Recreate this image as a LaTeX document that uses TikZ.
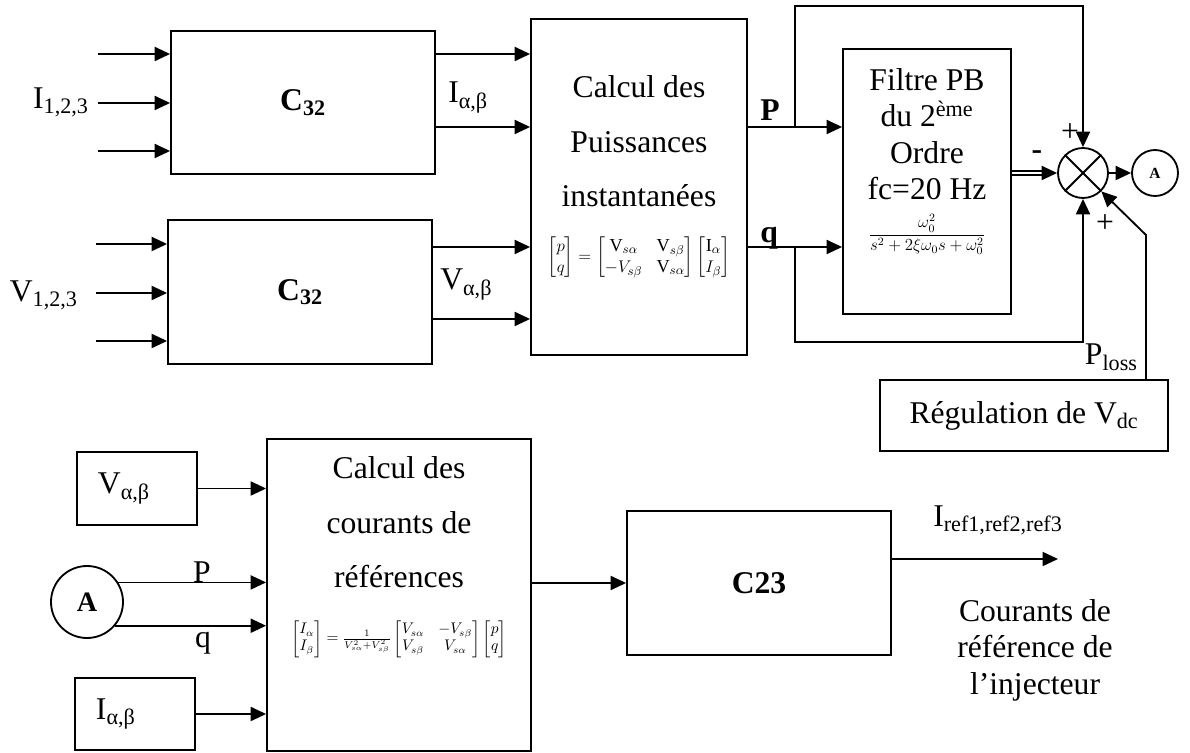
\documentclass[tikz,border=0pt]{standalone}
\usepackage{amsmath}
\usepackage{fontspec}
\setmainfont{Liberation Serif}
\usetikzlibrary{arrows.meta,calc}

\tikzset{
  bloc/.style 2 args={draw,line width=1.3pt,minimum width=#1*0.025cm,minimum height=#2*0.025cm,inner sep=0pt},
  rond/.style={draw,circle,line width=1.3pt,inner sep=0pt,minimum size=#1*0.025cm},
  ligne/.style={line width=1.3pt},
  fleche/.style={line width=1.3pt,-{Triangle[length=11pt,width=10pt]}},
  texte/.style={inner sep=0pt,font=\fontsize{22.5}{26}\selectfont},
  grand/.style={inner sep=0pt,align=center,font=\fontsize{22.5}{39}\selectfont}
}

\begin{document}
\begin{tikzpicture}[x=0.025cm,y=-0.025cm]
  \useasboundingbox (0,0) rectangle (1190,753);
  % transformations C32
  \node[bloc={264}{143},texte] (c32i) at (303,102.5) {\textbf{C\textsubscript{32}}};
  \node[bloc={264}{144},texte] (c32v) at (300,292) {\textbf{C\textsubscript{32}}};
  \foreach \y in {54,103,151}{
    \coordinate (ei\y) at (98,\y);
    \draw[fleche] (ei\y) -- (ei\y -| c32i.west);
  }
  \foreach \y in {244,293,341}{
    \coordinate (ev\y) at (96,\y);
    \draw[fleche] (ev\y) -- (ev\y -| c32v.west);
  }
  \node[texte,anchor=base east] (li) at (89,109) {I\textsubscript{1,2,3}};
  \node[texte,anchor=base east] (lv) at (78,302) {V\textsubscript{1,2,3}};

  % calcul des puissances
  \node[bloc={216}{336}] (calcP) at (639,187) {};
  \node[grand,anchor=north] (txtP) at (639,75) {Calcul des\\Puissances\\instantanées\\
    {\fontsize{13}{15}\selectfont$\begin{bmatrix}p\\q\end{bmatrix}=\begin{bmatrix}\mathrm{V}_{s\alpha}&\mathrm{V}_{s\beta}\\-V_{s\beta}&\mathrm{V}_{s\alpha}\end{bmatrix}\begin{bmatrix}\mathrm{I}_{\alpha}\\I_{\beta}\end{bmatrix}$}};
  \draw[fleche] (c32i.east |- ei54) -- (calcP.west |- ei54);
  \draw[fleche] (c32i.east |- 0,127) -- (calcP.west |- 0,127);
  \draw[fleche] (c32v.east |- 0,247) -- (calcP.west |- 0,247);
  \draw[fleche] (c32v.east |- 0,319) -- (calcP.west |- 0,319);
  \node[texte,anchor=base west] (lia) at (448,103) {I\textsubscript{α,β}};
  \node[texte,anchor=base west] (lva) at (440,290) {V\textsubscript{α,β}};

  % filtre et sommateur
  \node[bloc={168}{265}] (filtre) at (927,181.5) {};
  \node[texte,align=center,anchor=north] (txtF) at (927,68) {Filtre PB\\du 2\textsuperscript{ème}\\Ordre\\fc=20 Hz\\[2pt]
    {\fontsize{12}{14}\selectfont$\displaystyle\frac{\omega_0^2}{s^2+2\xi\omega_0 s+\omega_0^2}$}};
  \node[rond=50] (sum) at (1083,173) {};
  \draw[ligne] (sum.45) -- (sum.225) (sum.135) -- (sum.-45);
  \node[rond=46,font=\bfseries\fontsize{11}{12}\selectfont] (delta) at (1155,173) {A};
  \coordinate (bP) at (795,127);
  \coordinate (bq) at (795,247);
  \draw[fleche] (calcP.east |- bP) -- (filtre.west |- bP);
  \draw[fleche] (calcP.east |- bq) -- (filtre.west |- bq);
  \draw[fleche] (bP) -- (bP |- 0,6) -| (sum.north);
  \draw[fleche] (bq) -- (bq |- 0,342) -| (sum.south);
  \draw[ligne,line width=1pt,double,double distance=2pt] (filtre.east |- sum) -- ($(sum.west)+(-12,0)$);
  \draw[fleche] ($(sum.west)+(-14,0)$) -- (sum.west);
  \draw[fleche] (sum.east) -- (delta.west);
  \node[texte,anchor=base west] (lP) at (760,121) {\textbf{P}};
  \node[texte,anchor=base west] (lq) at (760,243) {\textbf{q}};
  \node[texte] (plus1) at (1070,133) {+};
  \node[texte] (plus2) at (1105,224) {+};
  \node[texte] (moins) at (1037,155) {\textbf{-}};

  % regulation du bus continu
  \node[bloc={288}{71},texte] (regul) at (1024,415.5) {Régulation de V\textsubscript{dc}};
  \coordinate (coude) at (1146,235);
  \draw[fleche] (regul.north -| coude) -- (coude) -- (sum.-45);
  \node[texte,anchor=base east] (lploss) at (1138,365) {P\textsubscript{loss}};

  % calcul des courants de reference
  \node[bloc={264}{312}] (calcI) at (399,595) {};
  \node[grand,anchor=north] (txtI) at (399,456) {Calcul des\\courants de\\références\\
    {\fontsize{10.5}{12}\selectfont$\begin{bmatrix}I_{\alpha}\\I_{\beta}\end{bmatrix}=\frac{1}{V_{s\alpha}^2+V_{s\beta}^2}\begin{bmatrix}V_{s\alpha}&-V_{s\beta}\\V_{s\beta}&V_{s\alpha}\end{bmatrix}\begin{bmatrix}p\\q\end{bmatrix}$}};
  \node[bloc={120}{73},texte,text width=1.95cm,align=left] (bV) at (137,488.5) {V\textsubscript{α,β}};
  \node[bloc={120}{72},texte,text width=1.95cm,align=left] (bI) at (135,714) {I\textsubscript{α,β}};
  \node[rond=72,texte,font=\bfseries\fontsize{20}{24}\selectfont] (cA) at (87,602) {A};
  \draw[fleche] (bV.east) -- (bV.east -| calcI.west);
  \draw[fleche] (bI.east) -- (bI.east -| calcI.west);
  \draw[fleche] (cA.32) -- (cA.32 -| calcI.west);
  \draw[fleche] (cA.-40) -- (cA.-40 -| calcI.west);
  \node[texte,anchor=base] (lpb) at (202,582) {P};
  \node[texte,anchor=base] (lqb) at (203,647) {q};

  % transformation inverse
  \node[bloc={264}{144},texte] (c23) at (759,583) {\textbf{C23}};
  \coordinate (sortie) at (1058,559);
  \draw[fleche] (calcI.east |- c23) -- (c23.west);
  \draw[fleche] (c23.east |- sortie) -- (sortie);
  \node[texte,anchor=base west] (lref) at (933,526) {I\textsubscript{ref1,ref2,ref3}};
  \node[texte,align=center,anchor=north] (txtC) at (1035,599) {Courants de\\référence de\\l’injecteur};
\end{tikzpicture}
\end{document}
